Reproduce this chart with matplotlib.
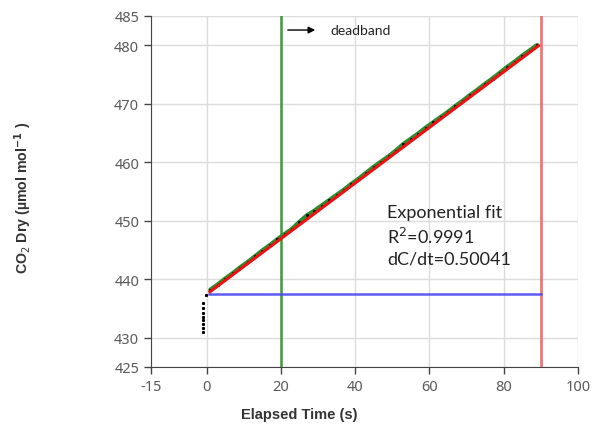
import matplotlib
matplotlib.use('Agg')
import matplotlib.pyplot as plt
import numpy as np

plt.rcParams['axes.unicode_minus'] = False

# -[Dati]-----------------------------------------------------------------------
t_pre = [-1.0, -1.0, -1.0, -1.0, -1.0, -1.0, -1.0, -1.0, -0.3]
c_pre = [431.0, 431.7, 432.4, 433.1, 433.6, 434.2, 435.0, 436.0, 437.3]

t_meas = [1, 3, 5, 7, 9, 11, 13, 15, 17, 19, 21, 23, 25, 27, 29, 31, 33, 35, 37,
          39, 41, 43, 45, 47, 49, 51, 53, 55, 57, 59, 61, 63, 65, 67, 69, 71, 73,
          75, 77, 79, 81, 83, 85, 87, 89]
c_meas = [438.2, 439.1, 440.1, 441.0, 442.0, 442.9, 443.9, 444.9, 445.8, 446.8,
          447.7, 448.6, 449.8, 450.9, 451.7, 452.6, 453.5, 454.4, 455.3, 456.3,
          457.2, 458.2, 459.2, 460.1, 461.0, 462.0, 463.1, 464.0, 464.9, 465.9,
          466.8, 467.7, 468.6, 469.6, 470.5, 471.5, 472.4, 473.4, 474.3, 475.3,
          476.3, 477.2, 478.2, 479.1, 480.0]

t_deadband = 20
t_end = 90
c_base = 437.5
t_base_start = 0.5

xticks = [-15, 0, 20, 40, 60, 80, 100]
yticks = [425, 430, 440, 450, 460, 470, 480, 485]

# -[Figura]---------------------------------------------------------------------
fig = plt.figure(figsize=(5.93, 4.27), dpi=100)
ax = fig.add_axes([0.2546, 0.1382, 0.72, 0.822])

ax.set_xlim(-15, 100)
ax.set_ylim(425, 485)
ax.set_xticks(xticks)
ax.set_yticks(yticks)
ax.grid(True, color='#dcdcdc', linewidth=1)
ax.set_axisbelow(True)
for s in ['top', 'right']:
    ax.spines[s].set_visible(False)
for s in ['left', 'bottom']:
    ax.spines[s].set_color('#444444')
ax.tick_params(direction='out', length=5, width=1, color='#444444',
               labelcolor='#5a5a5a', labelsize=10.5)
for lab in ax.get_xticklabels() + ax.get_yticklabels():
    lab.set_family('Noto Sans')

# linee verticali e baseline
ax.axvline(t_deadband, color='#3c9c3c', linewidth=1.8)
ax.axvline(t_end, color='#f06868', linewidth=2, alpha=0.9)
ax.plot([t_base_start, t_end], [c_base, c_base], color='#4a4af0', linewidth=1.8, alpha=0.9)

# dati
ax.plot(t_meas, c_meas, '-', color='#2e8b2e', linewidth=3.2, solid_capstyle='round')
ax.plot(t_pre, c_pre, 's', color='black', markersize=1.2)
ax.plot(t_meas, c_meas, 's', color='black', markersize=1.0)

# fit
pp = np.polyfit(t_meas, c_meas, 1)
tf = np.array([t_base_start, t_meas[-1]])
ax.plot(np.array(tf) + 0.4, np.polyval(pp, tf) - 0.15, '-', color='#ee1111', linewidth=2.2)

# testi
ax.annotate('', xy=(30.0, 482.6), xytext=(21.1, 482.6),
            arrowprops=dict(arrowstyle='-|>', color='black', lw=1, mutation_scale=10))
ax.text(33.2, 482.6, 'deadband', fontsize=10, va='center', family='Lato', color='#222222')
ax.text(48.6, 452.8, 'Exponential fit\nR$^2$=0.9991\ndC/dt=0.50041', fontsize=13,
        va='top', linespacing=1.33, family='Lato', color='#222222')

ax.set_xlabel('Elapsed Time (s)', fontsize=10.5, fontweight='bold', family='Liberation Sans',
              color='#333333')
ax.xaxis.set_label_coords(0.347, -0.114)
ax.set_ylabel('CO$_2$ Dry (µmol mol$^{\\mathbf{-1}}$ )', fontsize=10.2, fontweight='bold',
              family='Liberation Sans', color='#333333')
ax.yaxis.set_label_coords(-0.274, 0.484)

fig.savefig('out.png', dpi=100)
